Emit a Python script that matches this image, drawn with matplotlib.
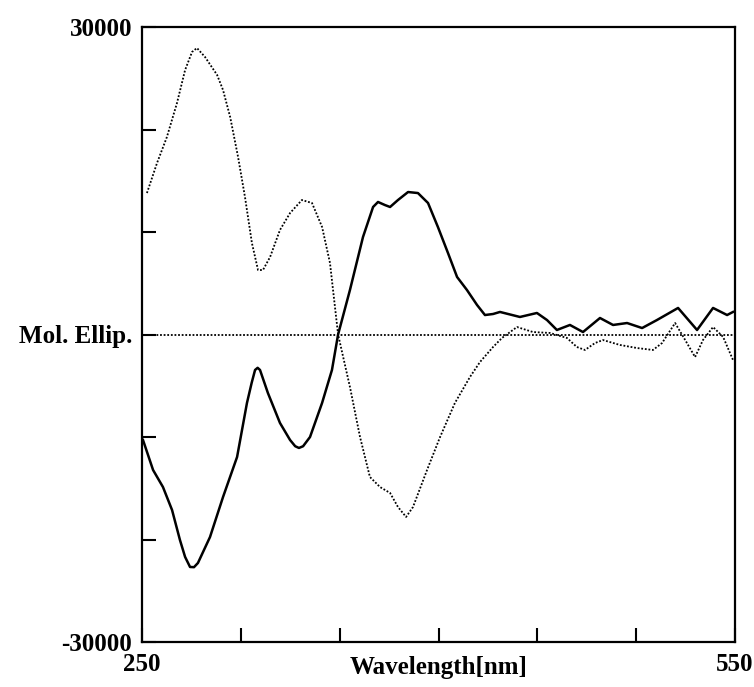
import matplotlib
matplotlib.use("Agg")
import matplotlib.pyplot as plt

# Dotted curve
wl_dot = [252.5, 257.6, 262.6, 267.7, 271.8, 275.3, 277.8, 281.9, 288.0, 291.0, 294.6, 298.6,
          302.1, 305.6, 308.7, 311.2, 314.8, 319.8, 324.9, 330.9, 336.0, 341.1, 345.1, 349.2,
          355.2, 360.3, 365.3, 370.4, 375.5, 379.5, 383.6, 387.1, 394.2, 400.8, 408.3, 415.9,
          421.0, 427.6, 432.1, 439.7, 447.8, 456.4, 465.0, 470.0, 474.1, 479.2, 483.2, 491.8,
          500.4, 508.5, 513.1, 519.7, 524.8, 529.8, 533.8, 538.9, 544.0, 549.0]
mol_dot = [13800, 16730, 19270, 22585, 25800, 27560, 27950, 27070, 25320, 23850, 21220, 17320,
           13410, 8930, 6290, 6290, 7560, 10200, 11850, 13120, 12830, 10490, 6980, 0,
           -5120, -10000, -13900, -14880, -15460, -16830, -17800, -16830, -13220, -10000, -6680, -4150,
           -2680, -1220, -340, 730, 240, 150, -340, -1220, -1510, -830, -540, -1020,
           -1320, -1510, -830, 1120, -540, -2200, -540, 730, -240, -2490]

# Solid curve
wl_sol = [250.5, 255.6, 260.6, 265.2, 269.2, 271.8, 274.3, 276.3, 278.3, 284.4, 291.0, 298.1,
          303.1, 305.5, 307.2, 308.5, 309.7, 313.7, 319.8, 324.9, 327.5, 329.4, 331.5, 335.0,
          341.1, 346.1, 349.2, 355.2, 361.8, 366.9, 369.4, 372.9, 375.5, 379.5, 384.6, 389.6,
          394.7, 399.7, 404.8, 409.4, 414.4, 419.5, 423.5, 427.6, 431.1, 441.2, 449.8, 454.9,
          459.9, 466.5, 473.1, 481.7, 488.3, 495.4, 503.0, 510.5, 521.2, 530.8, 538.9, 546.0,
          549.0]
mol_sol = [-10290, -13220, -14880, -17120, -20050, -21700, -22680, -22700, -22290, -19760, -15850, -11950,
           -6680, -4700, -3460, -3250, -3460, -5710, -8630, -10290, -10900, -11070, -10900, -10000,
           -6680, -3460, 0, 4340, 9510, 12440, 12930, 12630, 12440, 13120, 13900, 13800,
           12830, 10490, 7950, 5610, 4340, 2880, 1900, 2000, 2200, 1710, 2100, 1410,
           440, 930, 240, 1610, 930, 1120, 630, 1410, 2590, 440, 2590, 1900,
           2200]

x_ticks = [250, 300, 350, 400, 450, 500, 550]
x_labels = ["250", "", "", "", "", "", "550"]
y_ticks = [-30000, -20000, -10000, 0, 10000, 20000, 30000]
y_labels = ["-30000", "", "", "Mol. Ellip.", "", "", "30000"]

plt.rcParams['font.family'] = ['Liberation Serif', 'DejaVu Serif']

fig = plt.figure(figsize=(7.54, 6.87), dpi=100)
ax = fig.add_axes([142/754, 1-642/687, 593/754, 615/687])

ax.axhline(0, color='black', lw=1.3, ls=(0, (1, 1)))
ax.plot(wl_dot, mol_dot, color='black', lw=1.3, ls=(0, (1, 1)))
ax.plot(wl_sol, mol_sol, color='black', lw=1.8, solid_joinstyle='round')

ax.set_xlim(250, 550)
ax.set_ylim(-30000, 30000)
ax.set_xticks(x_ticks)
ax.set_xticklabels(x_labels, fontsize=18, fontweight='bold')
ax.set_yticks(y_ticks)
ax.set_yticklabels(y_labels, fontsize=18, fontweight='bold')
ax.tick_params(direction='in', length=10, width=1.5)
ax.tick_params(axis='x', pad=8)
ax.tick_params(axis='y', pad=7)
for s in ax.spines.values():
    s.set_linewidth(1.6)

ax.text(0.5, -0.042, "Wavelength[nm]", transform=ax.transAxes, ha='center', va='center',
        fontsize=18, fontweight='bold')

fig.savefig("out.png", dpi=100)
